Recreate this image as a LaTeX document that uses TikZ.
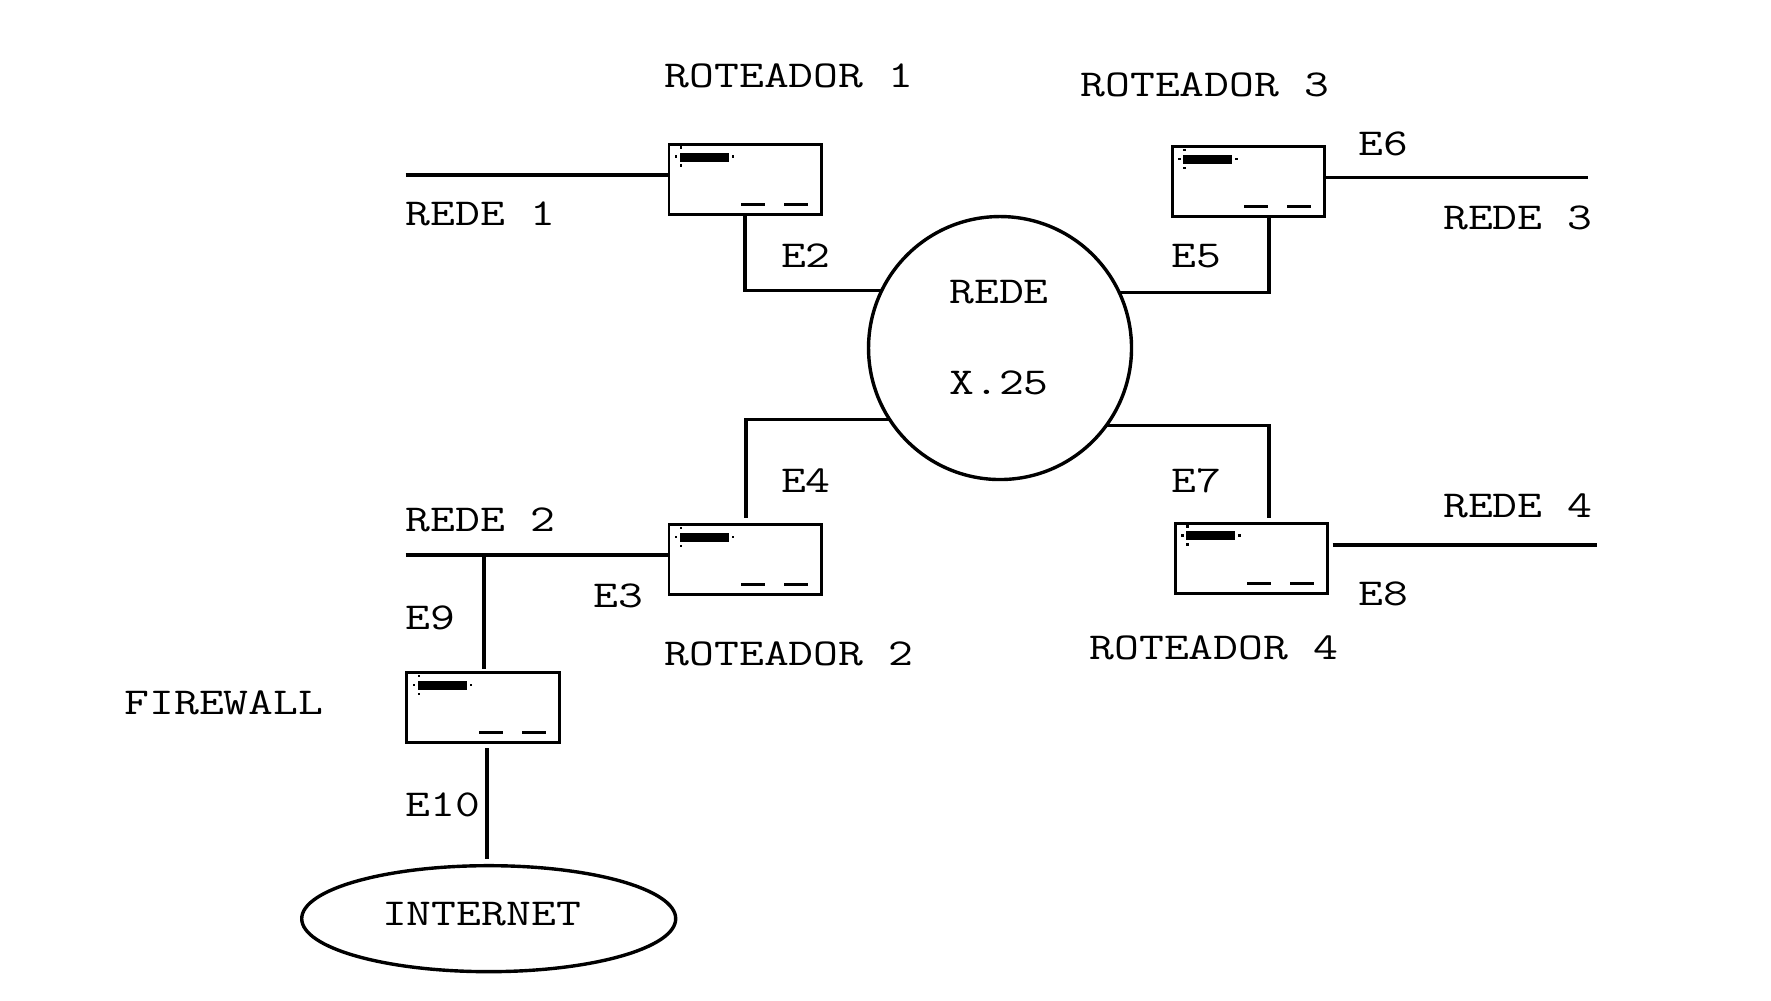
\documentclass[tikz,border=0pt]{standalone}
\usepackage{fontspec}
\setmonofont[FakeStretch=1.27]{Latin Modern Mono}
\usetikzlibrary{shapes.geometric}
\tikzset{
	rotulo/.style={anchor=base west,inner sep=0pt,font=\ttfamily\fontsize{38}{38}\selectfont},
	roteador/.style={draw,line width=2.9pt,outer sep=0pt,minimum width=152.5pt,minimum height=70pt},
	linha/.style={line width=3.6pt},
	redel/.style={line width=4pt},
	nuvem/.style={draw,line width=3.4pt,outer sep=0pt}
}
\newcommand{\painel}[1]{%
	\fill([shift={(11pt,-8pt)}]#1.north west)rectangle([shift={(60pt,-17pt)}]#1.north west);
	\foreach \px/\py in {12/3,7/12,64/12,12/21}
		\fill([shift={(\px pt-1.3pt,-\py pt+1.3pt)}]#1.north west)rectangle++(2.6pt,-2.6pt);
	\fill([shift={(72pt,-58.5pt)}]#1.north west)rectangle([shift={(96pt,-61.5pt)}]#1.north west);
	\fill([shift={(115pt,-58.5pt)}]#1.north west)rectangle([shift={(139pt,-61.5pt)}]#1.north west);
}

\begin{document}
\begin{tikzpicture}[x=1.13pt,y=-1.13pt]
	\useasboundingbox(0,0)rectangle(1567.3,885);
	\node[roteador](rot1)at(659.5,159){};
	\node[roteador](rot2)at(659.5,495.5){};
	\node[roteador](rot3)at(1105,161){};
	\node[roteador](rot4)at(1107.5,494){};
	\node[roteador](fw)at(427.5,626.5){};
	\foreach \r in {rot1,rot2,rot3,rot4,fw}
		\painel{\r};
	\node[nuvem,circle,minimum size=263pt](netx)at(885,308){};
	\node[nuvem,ellipse,minimum width=374pt,minimum height=106pt](inet)at(432.5,813){};
	\coordinate(rede1)at(359,155);
	\coordinate(rede2)at(359,491);
	\coordinate(rede3)at(1405,157);
	\coordinate(rede4)at(1413,482);
	\coordinate(tap9)at(428.5,491);
	\coordinate(tap5)at(1123,192);
	\coordinate(tap4)at(660,458);
	\coordinate(tap7)at(1123,458);
	\coordinate(tap10)at(431,662);
	\coordinate(tap11)at(431,760);
	\draw[redel](rede1)--(rede1-|rot1.west);
	\draw[linha](rot1.south)|-(netx.154.5);
	\draw[linha](tap5)|-(netx.25.5);
	\draw[linha](rot3.east|-rede3)--(rede3);
	\draw[linha](tap4)|-(netx.213.4);
	\draw[linha](tap7)|-(netx.324.3);
	\draw[redel](rede2)--(rede2-|rot2.west);
	\draw[redel,shorten <=5pt](rot4.east|-rede4)--(rede4);
	\draw[linha](tap9)--(428.5,592);
	\draw[linha](tap10)--(tap11);
	\node[rotulo](lrot1)at(588,77){ROTEADOR 1};
	\node[rotulo](lrot3)at(956,85){ROTEADOR 3};
	\node[rotulo](lrot2)at(588,589){ROTEADOR 2};
	\node[rotulo](lrot4)at(964,584){ROTEADOR 4};
	\node[rotulo](lrede1)at(359,200){REDE 1};
	\node[rotulo](lrede2)at(359,470){REDE 2};
	\node[rotulo](lrede3)at(1277,203){REDE 3};
	\node[rotulo](lrede4)at(1277,458){REDE 4};
	\node[rotulo](lnet1)at(840,269){REDE};
	\node[rotulo](lnet2)at(840,349){X.25};
	\node[rotulo](le2)at(691,237){E2};
	\node[rotulo](le3)at(525,538){E3};
	\node[rotulo](le4)at(691,436){E4};
	\node[rotulo](le5)at(1037,237){E5};
	\node[rotulo](le6)at(1202,138){E6};
	\node[rotulo](le7)at(1037,436){E7};
	\node[rotulo](le8)at(1202,536){E8};
	\node[rotulo](le9)at(359,557){E9};
	\node[rotulo](le10)at(359,723){E10};
	\node[rotulo](lfw)at(110,632){FIREWALL};
	\node[rotulo](linet)at(338,819){INTERNET};
\end{tikzpicture}
\end{document}
